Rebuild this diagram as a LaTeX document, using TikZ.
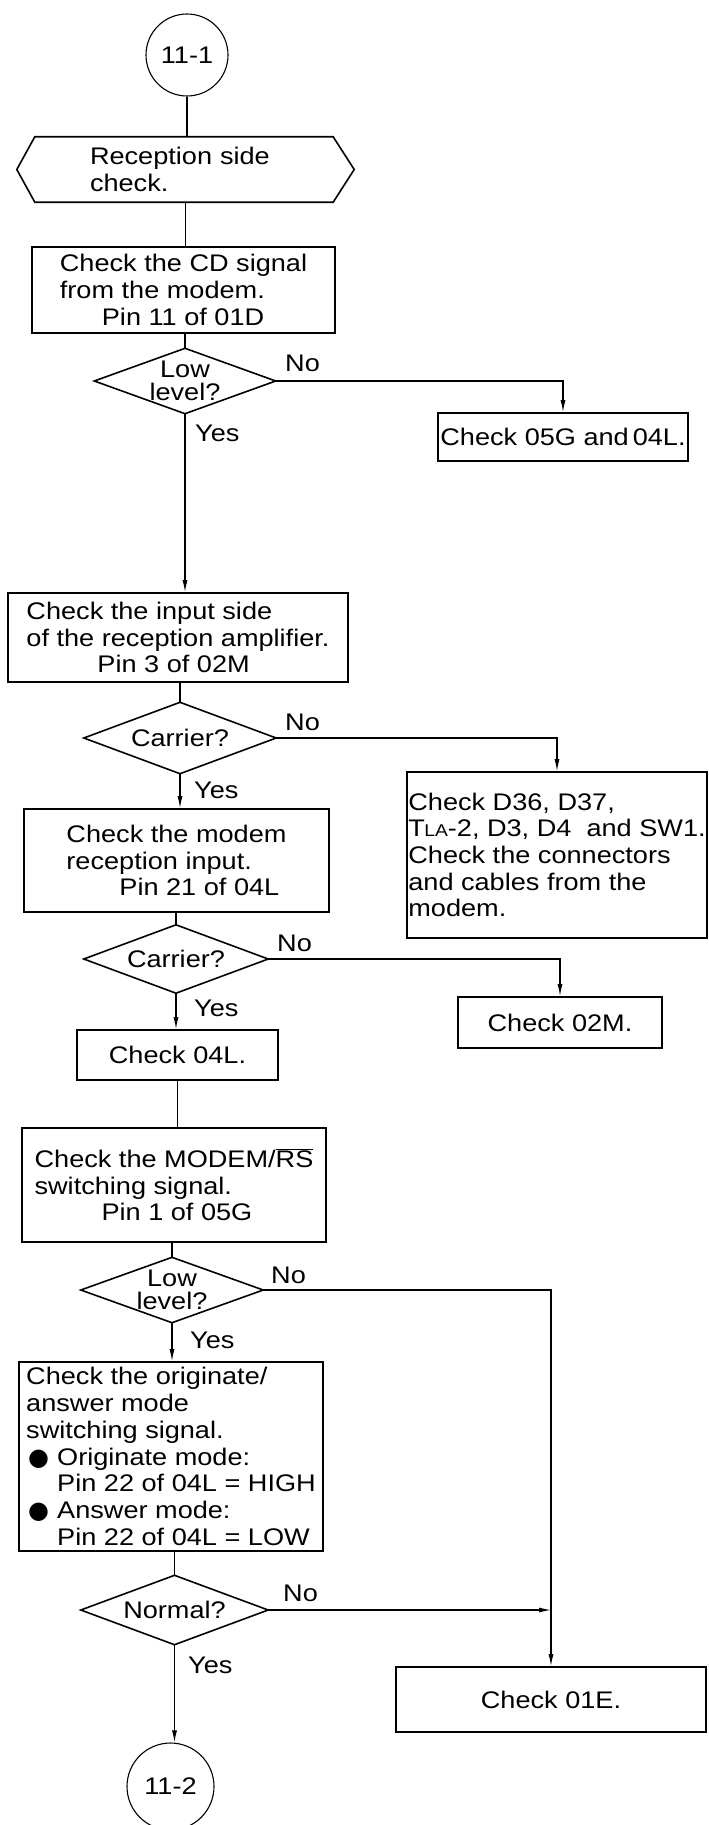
\documentclass[tikz,border=0pt]{standalone}
\usepackage{fontspec}
\setmainfont{Liberation Sans}[FakeStretch=1.13]
\newfontfamily\symfont{DejaVu Sans}
\usetikzlibrary{arrows.meta}
\newcommand{\blt}{\makebox[31pt][l]{\hspace*{2pt}{\symfont\fontsize{24}{24}\selectfont ●}}}
\begin{document}
\begin{tikzpicture}[x=1pt,y=-1pt,
  every node/.style={font=\fontsize{24}{26.7}\selectfont},
  box/.style={draw, line width=1.8pt, align=left, inner sep=0pt},
  decision/.style={inner sep=0pt, align=center, font=\fontsize{24}{23}\selectfont},
  decline/.style={line width=1.6pt, line join=miter},
  term/.style={circle, draw, line width=1.1pt, inner sep=0pt},
  conn/.style={line width=1.1pt},
  arr/.style={line width=1.1pt, -{Latex[length=12pt,width=5pt]}},
  lbl/.style={anchor=west, inner sep=0pt}]
\useasboundingbox (0,0) rectangle (709,1825);

% terminals
\node[term, minimum size=82pt] (c1) at (187,55) {11-1};
\node[term, minimum size=87pt] (c2) at (170.5,1786.5) {11-2};

% preparation hexagon
\node[inner sep=0pt, align=left, text width=191pt, minimum width=337pt, minimum height=65pt] (hex) at (185.5,169.5) {Reception side\\check.};
\draw[decline] (hex.west) -- ([xshift=18pt]hex.north west) -- ([xshift=-21pt]hex.north east)
  -- (hex.east) -- ([xshift=-21pt]hex.south east) -- ([xshift=18pt]hex.south west) -- cycle;

% process boxes
\node[box, minimum width=303pt, minimum height=86pt] (box1) at (183.5,290)
  {Check the CD signal\\from the modem.\\\hspace*{42pt}Pin 11 of 01D};
\node[box, minimum width=250pt, minimum height=48pt] (b05G) at (563,437) {Check 05G and\,04L.};
\node[box, minimum width=340pt, minimum height=89pt] (box2) at (178,637.5)
  {Check the input side\\of the reception amplifier.\\\hspace*{71pt}Pin 3 of 02M};
\node[box, minimum width=300pt, minimum height=166pt] (big) at (557,855)
  {Check D36, D37,\\T\kern-0.5pt{\fontsize{17}{17}\selectfont LA}-2, D3, D4\ \ and SW1.\\Check the connectors\\and cables from the\\modem.};
\node[box, minimum width=305pt, minimum height=103pt] (box3) at (176.5,860.5)
  {Check the modem\\reception input.\\\hspace*{53pt}Pin 21 of 04L};
\node[box, minimum width=204pt, minimum height=51pt] (b02M) at (560,1022.5) {Check 02M.};
\node[box, minimum width=201pt, minimum height=50pt] (box4) at (177.5,1055) {Check 04L.};
\node[box, minimum width=304pt, minimum height=114pt] (box5) at (174,1185)
  {Check the MODEM/\mbox{$\overline{\mbox{RS}}$}\\switching signal.\\\hspace*{67pt}Pin 1 of 05G};
\node[box, minimum width=304pt, minimum height=189pt] (box6) at (171,1456.5)
  {Check the originate/\\answer mode\\switching signal.\\
   \blt Originate mode:\\
   \hspace*{31pt}Pin 22 of 04L = HIGH\\
   \blt Answer mode:\\
   \hspace*{31pt}Pin 22 of 04L = LOW};
\node[box, minimum width=310pt, minimum height=65pt] (b01E) at (551,1699.5) {Check 01E.};

% decisions
\node[decision, minimum width=181pt, minimum height=65pt] (d1) at (185,381) {Low\\level?};
\node[decision, minimum width=192pt, minimum height=71pt] (d2) at (180,738) {Carrier?};
\node[decision, minimum width=184pt, minimum height=68pt] (d3) at (176,959) {Carrier?};
\node[decision, minimum width=182pt, minimum height=65pt] (d4) at (172,1290) {Low\\level?};
\node[decision, minimum width=187pt, minimum height=69pt] (d5) at (174.5,1610) {Normal?};
\foreach \d in {d1,d2,d3,d4,d5}{
  \draw[decline] (\d.north) -- (\d.east) -- (\d.south) -- (\d.west) -- cycle;
}

% labels
\node[lbl] (no1) at (285,363) {No};
\node[lbl] (yes1) at (195,433) {Yes};
\node[lbl] (no2) at (285,722) {No};
\node[lbl] (yes2) at (194,790) {Yes};
\node[lbl] (no3) at (277,943) {No};
\node[lbl] (yes3) at (194,1008) {Yes};
\node[lbl] (no4) at (271,1275) {No};
\node[lbl] (yes4) at (190,1340) {Yes};
\node[lbl] (no5) at (283,1593) {No};
\node[lbl] (yes5) at (188,1665) {Yes};

% connectors
\draw[conn] (c1.south) -- (c1.south |- hex.north);
\draw[conn] (hex.south) -- (hex.south |- box1.north);
\draw[conn] (d1.north |- box1.south) -- (d1.north);
\draw[arr] (d1.east) -| (b05G.north);
\draw[arr] (d1.south) -- (d1.south |- box2.north);
\draw[conn] (d2.north |- box2.south) -- (d2.north);
\draw[arr] (d2.east) -| (big.north);
\draw[arr] (d2.south) -- (d2.south |- box3.north);
\draw[conn] (d3.north |- box3.south) -- (d3.north);
\draw[arr] (d3.east) -| (b02M.north);
\draw[arr] (d3.south) -- (d3.south |- box4.north);
\draw[conn] (box4.south) -- (box4.south |- box5.north);
\draw[conn] (d4.north |- box5.south) -- (d4.north);
\draw[arr] (d4.east) -| (b01E.north);
\draw[arr] (d4.south) -- (d4.south |- box6.north);
\draw[conn] (d5.north |- box6.south) -- (d5.north);
\draw[arr] (d5.east) -- (d5.east -| b01E.north);
\draw[arr] (d5.south) -- (d5.south |- c2.north);
\end{tikzpicture}
\end{document}
